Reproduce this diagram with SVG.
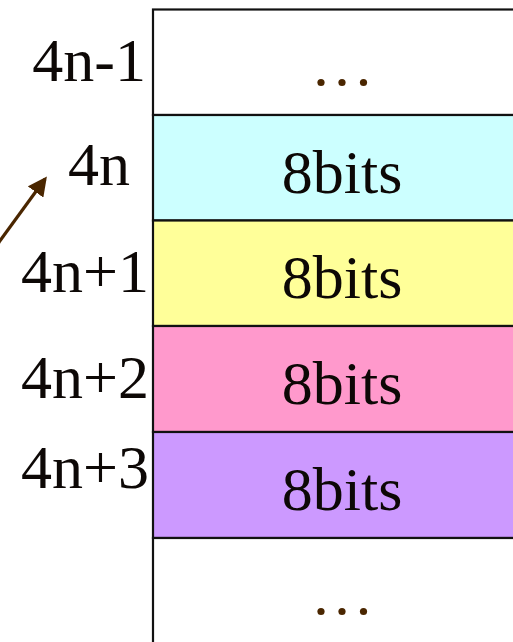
<svg xmlns="http://www.w3.org/2000/svg" width="513" height="642" viewBox="0 0 513 642">
  <style>
    .cell { stroke: #111; stroke-width: 2.2; }
    .lbl { font-family: "Liberation Serif", "Times New Roman", serif; font-size: 62px; fill: #0d0806; }
    .val { font-family: "Liberation Serif", "Times New Roman", serif; font-size: 62px; fill: #0d0806; text-anchor: middle; }
    .dot { fill: #4a2600; }
  </style>
  <defs>
    <marker id="head" markerWidth="6" markerHeight="6" refX="5" refY="3" orient="auto" markerUnits="strokeWidth">
      <path d="M0,0 L6,3 L0,6 Z" fill="#4a2600"/>
    </marker>
  </defs>

  <!-- memory cells -->
  <g id="cell-prev">
    <rect class="cell" x="153" y="9.5" width="380" height="105.5" fill="#ffffff"/>
    <circle class="dot" cx="321" cy="82.5" r="3.6"/>
    <circle class="dot" cx="342" cy="82.5" r="3.6"/>
    <circle class="dot" cx="363.5" cy="82.5" r="3.6"/>
  </g>
  <g id="cell-0">
    <rect class="cell" x="153" y="115" width="380" height="105.5" fill="#ccffff"/>
    <text class="val" x="342" y="193">8bits</text>
  </g>
  <g id="cell-1">
    <rect class="cell" x="153" y="220.5" width="380" height="105.5" fill="#ffff99"/>
    <text class="val" x="342" y="298">8bits</text>
  </g>
  <g id="cell-2">
    <rect class="cell" x="153" y="326" width="380" height="106" fill="#ff99cc"/>
    <text class="val" x="342" y="404">8bits</text>
  </g>
  <g id="cell-3">
    <rect class="cell" x="153" y="432" width="380" height="106" fill="#cc99ff"/>
    <text class="val" x="342" y="510">8bits</text>
  </g>
  <g id="cell-next">
    <rect class="cell" x="153" y="538" width="380" height="120" fill="#ffffff"/>
    <circle class="dot" cx="321" cy="611.5" r="3.6"/>
    <circle class="dot" cx="342" cy="611.5" r="3.6"/>
    <circle class="dot" cx="363.5" cy="611.5" r="3.6"/>
  </g>

  <!-- address labels -->
  <g id="addresses">
    <text class="lbl" x="146" y="81" text-anchor="end">4n-1</text>
    <text class="lbl" x="130" y="185" text-anchor="end">4n</text>
    <text class="lbl" x="21" y="291.5">4n+1</text>
    <text class="lbl" x="21" y="398">4n+2</text>
    <text class="lbl" x="21" y="488">4n+3</text>
  </g>

  <!-- pointer -->
  <g id="connectors">
    <line x1="-6" y1="249" x2="45" y2="179" stroke="#4a2600" stroke-width="3.2" marker-end="url(#head)"/>
  </g>
</svg>
